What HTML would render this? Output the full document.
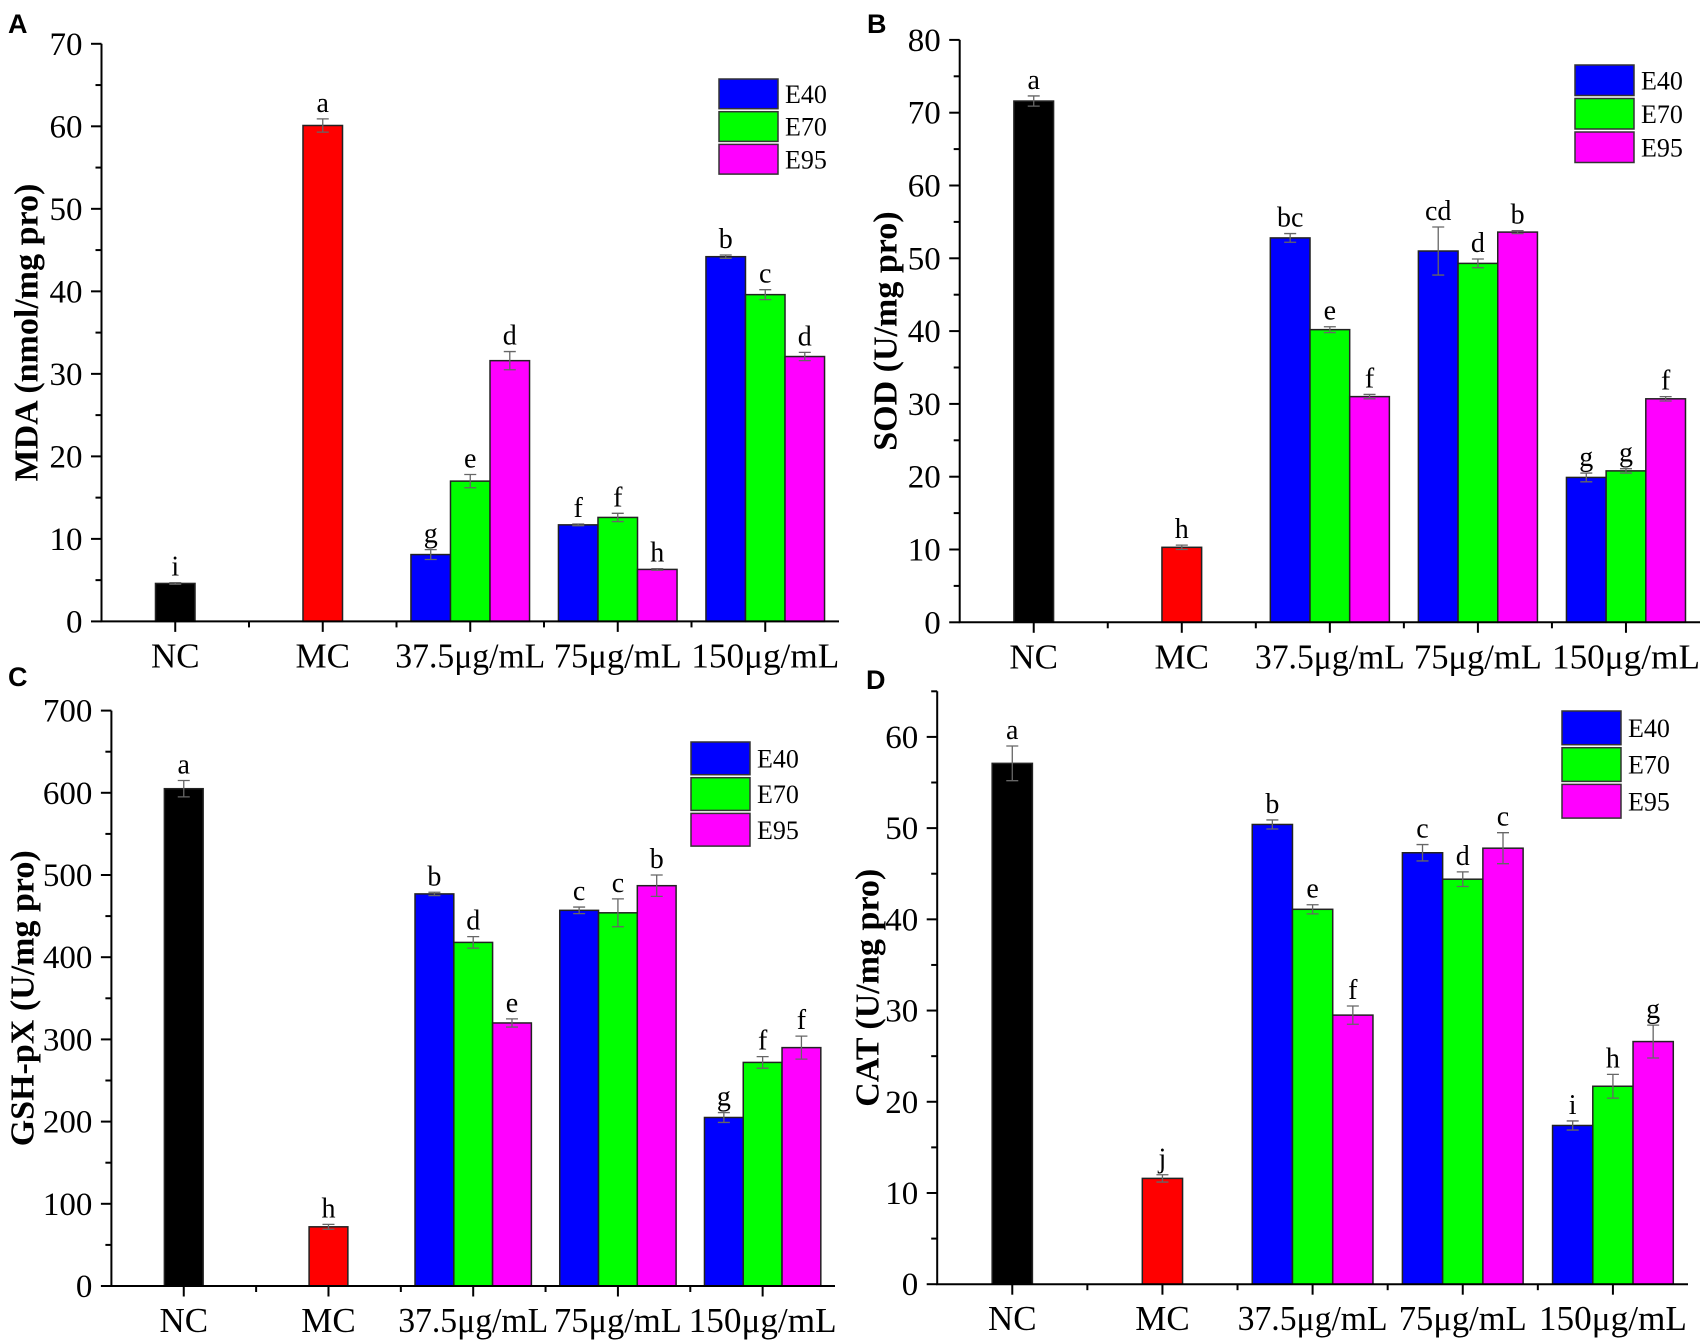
<!DOCTYPE html>
<html><head><meta charset="utf-8">
<style>
html,body{margin:0;padding:0;background:#fff;}
svg{display:block;}
svg text{font-family:"Liberation Serif","Times New Roman",serif;}
svg text.sans{font-family:"Liberation Sans",Arial,sans-serif;}
</style></head>
<body>
<svg id="fig" width="1705" height="1341" viewBox="0 0 1705 1341" xmlns="http://www.w3.org/2000/svg"></svg>
<script>
const categories = ["NC","MC","37.5μg/mL","75μg/mL","150μg/mL"];
const seriesNames = ["E40","E70","E95"];
// Panel A: MDA
const mdaSingle = [4.6, 60.1];
const mdaSingleErr = [0.1, 0.8];
const mdaSingleLet = ["i","a"];
const mdaE40 = [8.1, 11.7, 44.2];
const mdaE70 = [17.0, 12.6, 39.6];
const mdaE95 = [31.6, 6.3, 32.1];
const mdaErrE40 = [0.6, 0.1, 0.2];
const mdaErrE70 = [0.8, 0.5, 0.6];
const mdaErrE95 = [1.1, 0.1, 0.5];
const mdaLetE40 = ["g","f","b"];
const mdaLetE70 = ["e","f","c"];
const mdaLetE95 = ["d","h","d"];
const mdaTicks = [0,10,20,30,40,50,60,70];
// Panel B: SOD
const sodSingle = [71.6, 10.3];
const sodSingleErr = [0.7, 0.3];
const sodSingleLet = ["a","h"];
const sodE40 = [52.8, 51.0, 19.9];
const sodE70 = [40.2, 49.3, 20.8];
const sodE95 = [31.0, 53.6, 30.7];
const sodErrE40 = [0.6, 3.3, 0.6];
const sodErrE70 = [0.4, 0.6, 0.3];
const sodErrE95 = [0.3, 0.2, 0.3];
const sodLetE40 = ["bc","cd","g"];
const sodLetE70 = ["e","d","g"];
const sodLetE95 = ["f","b","f"];
const sodTicks = [0,10,20,30,40,50,60,70,80];
// Panel C: GSH-pX
const gshSingle = [605, 72];
const gshSingleErr = [10, 3];
const gshSingleLet = ["a","h"];
const gshE40 = [477, 457, 205];
const gshE70 = [418, 454, 272];
const gshE95 = [320, 487, 290];
const gshErrE40 = [2, 4, 6];
const gshErrE70 = [7, 17, 7];
const gshErrE95 = [5, 13, 14];
const gshLetE40 = ["b","c","g"];
const gshLetE70 = ["d","c","f"];
const gshLetE95 = ["e","b","f"];
const gshTicks = [0,100,200,300,400,500,600,700];
// Panel D: CAT
const catSingle = [57.1, 11.6];
const catSingleErr = [1.9, 0.4];
const catSingleLet = ["a","j"];
const catE40 = [50.4, 47.3, 17.4];
const catE70 = [41.1, 44.4, 21.7];
const catE95 = [29.5, 47.8, 26.6];
const catErrE40 = [0.5, 0.9, 0.5];
const catErrE70 = [0.5, 0.8, 1.3];
const catErrE95 = [1.0, 1.7, 1.8];
const catLetE40 = ["b","c","i"];
const catLetE70 = ["e","d","h"];
const catLetE95 = ["f","c","g"];
const catTicks = [0,10,20,30,40,50,60];

const NS = "http://www.w3.org/2000/svg";
const svg = document.getElementById('fig');
function mk(tag, attrs, parent, text){
  const e = document.createElementNS(NS, tag);
  for (const k in attrs) e.setAttribute(k, attrs[k]);
  if (text !== undefined) e.textContent = text;
  (parent || svg).appendChild(e);
  return e;
}
const seriesColors = ["#0000ff","#00ff00","#ff00ff"];
const singleColors = ["#000000","#ff0000"];
const labelWidths = [null, null, 150, 128, 148];

function panel(p){
  const g = mk('g', {});
  
  
  const L = p.x1 - p.x0;
  const step = L / 5;
  const bw = step * 0.268;
  const y = v => p.y0 - (v - p.ymin) / (p.ymax - p.ymin) * (p.y0 - p.ytop);
  const cx = i => p.x0 + (i + 0.5) * step;
  const lt = mk('text', {x:p.lx, y:p.ly, 'class':'sans','font-weight':'bold','font-size':27}, g, p.letter);
  
  
  const ym = (p.y0 + p.ytop) / 2;
  const yt = mk('text', {x:p.tx, y:ym, 'font-weight':'bold','font-size':34,'text-anchor':'middle','dominant-baseline':'central', transform:`rotate(-90 ${p.tx} ${ym})`}, g, p.title);
  
  
  const tk = p.ticks;
  for (let i = 0; i < tk.length; i++){
    const yy = y(tk[i]);
    const t = mk('line', {x1:p.x0-10.5, x2:p.x0, y1:yy, y2:yy, stroke:'#000','stroke-width':2}, g);
    
    
    const lb = mk('text', {x:p.x0-19, y:yy+11, 'font-size':33,'text-anchor':'end'}, g, String(tk[i]));
    
    
    if (i < tk.length - 1){
      const ym2 = y((tk[i] + tk[i+1]) / 2);
      const mt = mk('line', {x1:p.x0-6, x2:p.x0, y1:ym2, y2:ym2, stroke:'#000','stroke-width':2}, g);
      
      
    }
  }
  if (p.ymax > tk[tk.length-1]){
    const ym3 = y(tk[tk.length-1] + (tk[1]-tk[0])/2);
    const mt = mk('line', {x1:p.x0-6, x2:p.x0, y1:ym3, y2:ym3, stroke:'#000','stroke-width':2}, g);
    
    
  }
  for (let i = 0; i < 5; i++){
    const t = mk('line', {x1:cx(i), x2:cx(i), y1:p.y0, y2:p.y0+10.5, stroke:'#000','stroke-width':2}, g);
    
    
    if (i > 0){
      const bx = p.x0 + i * step;
      const m = mk('line', {x1:bx, x2:bx, y1:p.y0, y2:p.y0+6, stroke:'#000','stroke-width':2}, g);
      
      
    }
    const la = {x:cx(i), y:p.y0+46, 'font-size':35,'text-anchor':'middle'};
    if (labelWidths[i]) { la.textLength = labelWidths[i]; la.lengthAdjust = 'spacingAndGlyphs'; }
    const lb = mk('text', la, g, categories[i]);
    
    
  }
  function bar(xc, v, err, color, letter, name){
    const top = y(v);
    const r = mk('rect', {x:xc-bw/2, y:top, width:bw, height:p.y0-top, fill:color, stroke:'#222','stroke-width':1.5}, g);
    
    
    const et = y(v + err), eb = y(v - err);
    const e = mk('path', {d:`M${xc} ${et}V${eb}M${xc-6} ${et}H${xc+6}M${xc-6} ${eb}H${xc+6}`, stroke:'#666','stroke-width':1.3, fill:'none'}, g);
    
    
    const lt2 = mk('text', {x:xc, y:et-7, 'font-size':28,'text-anchor':'middle'}, g, letter);
    
    
  }
  for (let i = 0; i < 2; i++) bar(cx(i), p.single[i], p.singleErr[i], singleColors[i], p.singleLet[i], 'bar-' + categories[i].toLowerCase());
  for (let j = 0; j < 3; j++){
    const c = cx(j + 2);
    for (let s = 0; s < 3; s++){
      bar(c + (s - 1) * bw, p.vals[s][j], p.errs[s][j], seriesColors[s], p.lets[s][j], 'bar-' + seriesNames[s].toLowerCase() + '-' + (j+1));
    }
  }
  const ax = mk('path', {d:`M${p.x0} ${p.ytop}V${p.y0}H${p.x1}`, stroke:'#000','stroke-width':2, fill:'none'}, g);
  
  
  for (let s = 0; s < 3; s++){
    const yy = p.legY + s * p.legStep;
    const r = mk('rect', {x:p.legX, y:yy, width:59, height:p.legStep-3, fill:seriesColors[s], stroke:'#333','stroke-width':1.5}, g);
    
    
    const t = mk('text', {x:p.legX+66, y:yy+(p.legStep-3)/2+9, 'font-size':26}, g, seriesNames[s]);
    
    
  }
}

panel({id:'mda', letter:'A', lx:8, ly:33, title:'MDA (nmol/mg pro)', tx:27,
  x0:101.5, x1:839, y0:621.4, ytop:43.8, ymin:0, ymax:70, ticks:mdaTicks,
  single:mdaSingle, singleErr:mdaSingleErr, singleLet:mdaSingleLet,
  vals:[mdaE40,mdaE70,mdaE95], errs:[mdaErrE40,mdaErrE70,mdaErrE95], lets:[mdaLetE40,mdaLetE70,mdaLetE95],
  legX:719, legY:79, legStep:32.7});
panel({id:'sod', letter:'B', lx:867, ly:33, title:'SOD (U/mg pro)', tx:886,
  x0:959.7, x1:1700, y0:622.3, ytop:39.9, ymin:0, ymax:80, ticks:sodTicks,
  single:sodSingle, singleErr:sodSingleErr, singleLet:sodSingleLet,
  vals:[sodE40,sodE70,sodE95], errs:[sodErrE40,sodErrE70,sodErrE95], lets:[sodLetE40,sodLetE70,sodLetE95],
  legX:1575, legY:65, legStep:33.5});
panel({id:'gsh', letter:'C', lx:8, ly:686, title:'GSH-pX (U/mg pro)', tx:23,
  x0:111.4, x1:835, y0:1286, ytop:710.6, ymin:0, ymax:700, ticks:gshTicks,
  single:gshSingle, singleErr:gshSingleErr, singleLet:gshSingleLet,
  vals:[gshE40,gshE70,gshE95], errs:[gshErrE40,gshErrE70,gshErrE95], lets:[gshLetE40,gshLetE70,gshLetE95],
  legX:691, legY:742, legStep:35.7});
panel({id:'cat', letter:'D', lx:866, ly:689, title:'CAT (U/mg pro)', tx:868,
  x0:937.2, x1:1688, y0:1284.2, ytop:691.3, ymin:0, ymax:65, ticks:catTicks,
  single:catSingle, singleErr:catSingleErr, singleLet:catSingleLet,
  vals:[catE40,catE70,catE95], errs:[catErrE40,catErrE70,catErrE95], lets:[catLetE40,catLetE70,catLetE95],
  legX:1562, legY:711, legStep:36.7});
</script>
</body></html>
